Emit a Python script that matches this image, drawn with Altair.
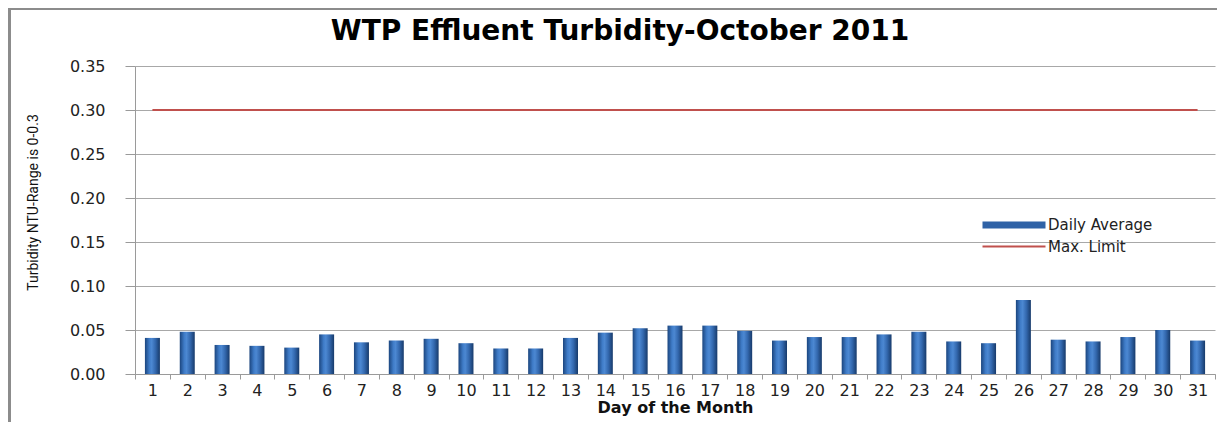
import altair as alt
import pandas as pd

days = list(range(1, 32))
daily_average = [0.041, 0.048, 0.033, 0.032, 0.030, 0.045, 0.036, 0.038, 0.040, 0.035,
                 0.029, 0.029, 0.041, 0.047, 0.052, 0.055, 0.055, 0.049, 0.038, 0.042,
                 0.042, 0.045, 0.048, 0.037, 0.035, 0.084, 0.039, 0.037, 0.042, 0.050,
                 0.038]
max_limit = [0.30] * 31
series_names = ["Daily Average", "Max. Limit"]
y_ticks = [0.0, 0.05, 0.10, 0.15, 0.20, 0.25, 0.30, 0.35]

bars_df = pd.DataFrame({"day": days, "value": daily_average, "series": series_names[0]})
line_df = pd.DataFrame({"day": days, "value": max_limit, "series": series_names[1]})

FONT = "DejaVu Sans"

x_enc = alt.X(
    "day:O",
    sort=days,
    scale=alt.Scale(paddingInner=0, paddingOuter=0),
    axis=alt.Axis(
        title="Day of the Month",
        labelAngle=0,
        labelOverlap=False,
        labelFont=FONT,
        labelFontSize=16,
        labelColor="#222222",
        labelPadding=3,
        tickBand="extent",
        tickSize=5,
        tickColor="#9a9a9a",
        domainColor="#9a9a9a",
        grid=False,
        titleFont=FONT,
        titleFontSize=16,
        titleFontWeight="bold",
        titleColor="#111111",
        titleY=33,
        titleBaseline="middle",
    ),
)

y_enc = alt.Y(
    "value:Q",
    scale=alt.Scale(domain=[0, 0.35], nice=False),
    axis=alt.Axis(
        title="Turbidity NTU-Range is 0-0.3",
        values=y_ticks,
        format=".2f",
        labelFont=FONT,
        labelFontSize=16,
        labelColor="#222222",
        labelPadding=20,
        tickSize=10,
        tickColor="#9a9a9a",
        domainColor="#9a9a9a",
        grid=True,
        gridColor="#a8a8a8",
        titleFont="Roboto",
        titleFontSize=14,
        titleFontWeight="normal",
        titleColor="#111111",
        titleX=-102,
        titleY=136,
        titleAngle=-90,
        titleAlign="center",
        titleBaseline="middle",
    ),
)

gradient = alt.LinearGradient(
    gradient="linear",
    x1=0, x2=1, y1=0, y2=0,
    stops=[
        alt.GradientStop(color="#1b457e", offset=0),
        alt.GradientStop(color="#3f7cc8", offset=0.3),
        alt.GradientStop(color="#4c88d2", offset=0.45),
        alt.GradientStop(color="#3368ae", offset=0.7),
        alt.GradientStop(color="#173a6a", offset=1),
    ],
)

legend_props = dict(
    title=None,
    orient="none",
    legendX=870,
    legendY=150,
    symbolType="M-6,0H6",
    symbolSize=110.25,
    labelFont=FONT,
    labelFontSize=15,
    labelColor="#222222",
    labelOffset=25,
    rowPadding=0,
)

bars = alt.Chart(bars_df).mark_bar(size=15, fill=gradient).encode(x=x_enc, y=y_enc)

line = alt.Chart(line_df).mark_line().encode(
    x=x_enc,
    y=y_enc,
    color=alt.Color(
        "series:N",
        scale=alt.Scale(domain=series_names, range=["#2f62a6", "#c0504d"]),
        legend=alt.Legend(**legend_props),
    ),
    strokeWidth=alt.StrokeWidth(
        "series:N",
        scale=alt.Scale(domain=series_names, range=[7, 2.2]),
        legend=alt.Legend(**legend_props),
    ),
)

frame_left = alt.Chart(bars_df).mark_rule(color="#8c8c8c", strokeWidth=2.5).encode(
    x=alt.value(-125.5), y=alt.value(-58), y2=alt.value(357)
)
frame_top = alt.Chart(bars_df).mark_rule(color="#8c8c8c", strokeWidth=1.5).encode(
    x=alt.value(-127), x2=alt.value(1090), y=alt.value(-57)
)

chart = (
    alt.layer(bars, line, frame_left, frame_top)
    .properties(
        width=1080,
        height=308,
        title=alt.TitleParams(
            "WTP Effluent Turbidity-October 2011",
            font=FONT,
            fontSize=28,
            fontWeight="bold",
            color="#000000",
            anchor="middle",
            frame="group",
            dx=-55,
            offset=-39,
        ),
        autosize=alt.AutoSizeParams(type="none"),
        padding={"left": 127, "top": 58, "right": 2, "bottom": 48},
    )
    .configure_view(stroke=None)
)

chart.save("out.html", embed_options={"renderer": "svg", "actions": False})
